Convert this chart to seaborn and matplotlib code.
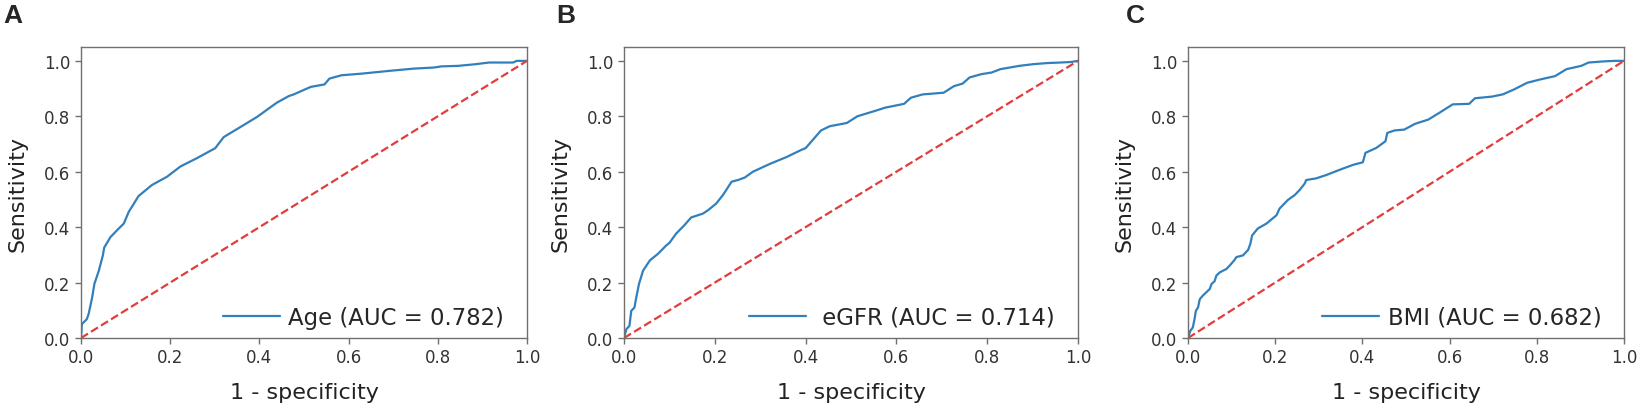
import numpy as np
import pandas as pd
import matplotlib
matplotlib.use("Agg")
import matplotlib.pyplot as plt
import seaborn as sns

# ROC points (1 - specificity, sensitivity)
fpr_age = [0.0, 0.002, 0.013, 0.017, 0.025, 0.03, 0.04, 0.049, 0.052, 0.066, 0.081,
           0.096, 0.107, 0.129, 0.159, 0.193, 0.223, 0.26, 0.301, 0.32, 0.35, 0.395,
           0.439, 0.466, 0.477, 0.515, 0.546, 0.557, 0.584, 0.63, 0.692, 0.746, 0.792,
           0.808, 0.846, 0.885, 0.915, 0.969, 0.977, 1.0]
tpr_age = [0.0, 0.05, 0.068, 0.086, 0.146, 0.195, 0.243, 0.298, 0.326, 0.364, 0.389,
           0.413, 0.455, 0.512, 0.552, 0.582, 0.619, 0.649, 0.685, 0.725, 0.754, 0.798,
           0.849, 0.873, 0.879, 0.906, 0.915, 0.936, 0.948, 0.954, 0.964, 0.972, 0.976,
           0.98, 0.982, 0.988, 0.994, 0.994, 1.0, 1.0]

fpr_egfr = [0.0, 0.005, 0.012, 0.016, 0.023, 0.027, 0.033, 0.042, 0.057, 0.075, 0.093,
            0.1, 0.115, 0.133, 0.148, 0.174, 0.185, 0.203, 0.218, 0.237, 0.251, 0.266,
            0.284, 0.321, 0.358, 0.391, 0.4, 0.434, 0.453, 0.491, 0.514, 0.552, 0.575,
            0.617, 0.632, 0.658, 0.704, 0.727, 0.746, 0.761, 0.787, 0.81, 0.829, 0.871,
            0.901, 0.932, 0.962, 0.985, 1.0]
tpr_egfr = [0.0, 0.031, 0.044, 0.098, 0.11, 0.146, 0.195, 0.243, 0.28, 0.304, 0.334,
            0.343, 0.377, 0.407, 0.435, 0.449, 0.461, 0.485, 0.516, 0.564, 0.57, 0.579,
            0.6, 0.628, 0.653, 0.679, 0.685, 0.749, 0.764, 0.776, 0.8, 0.819, 0.831,
            0.845, 0.867, 0.879, 0.885, 0.909, 0.918, 0.94, 0.952, 0.958, 0.97, 0.982,
            0.988, 0.992, 0.994, 0.996, 1.0]

fpr_bmi = [0.0, 0.005, 0.011, 0.015, 0.018, 0.023, 0.027, 0.034, 0.042, 0.05, 0.054,
           0.061, 0.065, 0.073, 0.088, 0.096, 0.107, 0.111, 0.126, 0.138, 0.143, 0.147,
           0.16, 0.18, 0.203, 0.21, 0.229, 0.245, 0.256, 0.268, 0.271, 0.294, 0.317,
           0.348, 0.379, 0.401, 0.407, 0.432, 0.453, 0.457, 0.474, 0.496, 0.521, 0.551,
           0.577, 0.607, 0.645, 0.658, 0.697, 0.722, 0.748, 0.778, 0.808, 0.842, 0.868,
           0.902, 0.919, 0.953, 0.979, 1.0]
tpr_bmi = [0.0, 0.025, 0.038, 0.068, 0.098, 0.11, 0.14, 0.153, 0.165, 0.177, 0.195,
           0.205, 0.225, 0.237, 0.249, 0.262, 0.282, 0.292, 0.298, 0.318, 0.34, 0.37,
           0.395, 0.413, 0.443, 0.467, 0.498, 0.516, 0.534, 0.558, 0.57, 0.576, 0.588,
           0.607, 0.625, 0.634, 0.668, 0.686, 0.71, 0.74, 0.749, 0.752, 0.773, 0.788,
           0.813, 0.843, 0.845, 0.865, 0.871, 0.879, 0.897, 0.921, 0.933, 0.945, 0.97,
           0.982, 0.994, 0.998, 1.0, 1.0]

labels = ["Age (AUC = 0.782)", " eGFR (AUC = 0.714)", "BMI (AUC = 0.682)"]
panel_letters = ["A", "B", "C"]
ticks = [0.0, 0.2, 0.4, 0.6, 0.8, 1.0]

curves = [(fpr_age, tpr_age), (fpr_egfr, tpr_egfr), (fpr_bmi, tpr_bmi)]

sns.set_style("ticks")
plt.rcParams["font.family"] = ["DejaVu Sans"]

fig = plt.figure(figsize=(16.43, 4.14), dpi=100)

W, H = 1643, 414
# axes boxes in pixels: left, right
boxes = [(81, 527), (624, 1078), (1188, 1624)]
top_px, bot_px = 48, 339
letter_x = [3, 556, 1126]

spine_col = "#707070"

for i, ((fpr, tpr), (l, r)) in enumerate(zip(curves, boxes)):
    ax = fig.add_axes([l / W, (H - bot_px) / H, (r - l) / W, (bot_px - top_px) / H])
    df = pd.DataFrame({"fpr": fpr, "tpr": tpr})
    sns.lineplot(data=df, x="fpr", y="tpr", ax=ax, sort=False, estimator=None,
                 color="#3180bd", lw=1.6, label=labels[i])
    ax.plot([0, 1], [0, 1], linestyle="--", color="#e23c3c", lw=1.6)

    ax.set_xlim(0, 1.0)
    ax.set_ylim(0, 1.05)
    ax.set_xticks(ticks)
    ax.set_yticks(ticks)
    ax.set_xticklabels([f"{t:.1f}" for t in ticks])
    ax.set_yticklabels([f"{t:.1f}" for t in ticks])
    ax.tick_params(labelsize=12, colors=spine_col, labelcolor="#333333",
                   length=4, width=1)
    for s in ax.spines.values():
        s.set_visible(True)
        s.set_color(spine_col)
        s.set_linewidth(1.0)

    ax.set_xlabel("1 - specificity", fontsize=16, color="#222222", labelpad=11)
    ax.set_ylabel("Sensitivity", fontsize=16, color="#222222", labelpad=12)

    ax.legend(loc="lower right", bbox_to_anchor=(0.969, 0.0), frameon=False,
              fontsize=16.4, handlelength=2.5, handletextpad=0.38,
              borderaxespad=0.0)

    fig.text(letter_x[i] / W, 1 - 4 / H, panel_letters[i], fontsize=19,
             fontweight="bold", family=["Liberation Sans", "DejaVu Sans"],
             ha="left", va="top")

fig.savefig("out.png", dpi=100)
